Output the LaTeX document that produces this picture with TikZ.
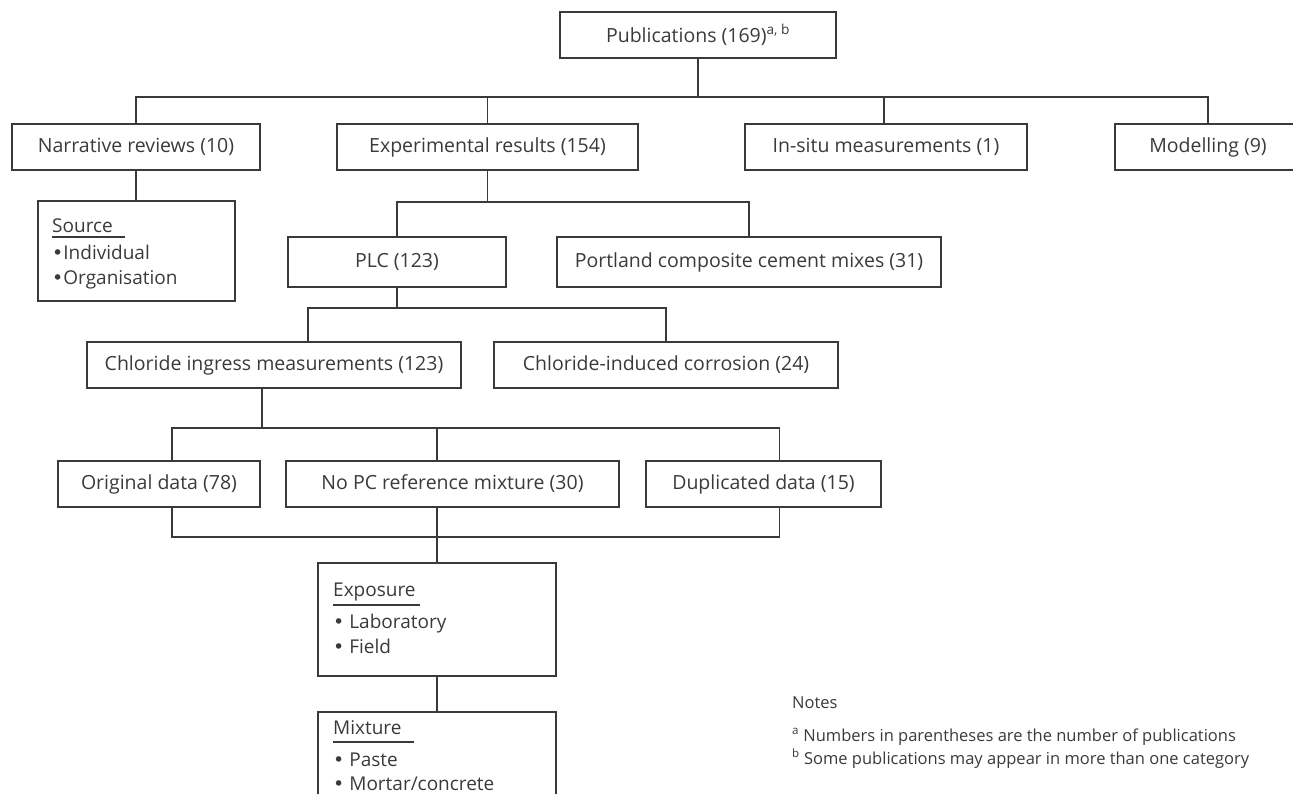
\documentclass[tikz,border=0pt]{standalone}
\usepackage{fontspec}
\setmainfont{Open Sans}
\newfontfamily\bulfont{DejaVu Sans}
\definecolor{ink}{HTML}{3A3A3A}
\newcommand{\bul}{{\bulfont •}}
\begin{document}
\begin{tikzpicture}[x=1pt,y=-1pt,
  box/.style={draw=ink, line width=1.3pt, inner sep=0pt, minimum height=46pt, text=ink, font=\fontsize{19.5}{22}\selectfont},
  conn/.style={draw=ink, line width=1.3pt},
  lbl/.style={anchor=base west, inner sep=0pt, text=ink, font=\fontsize{19}{22}\selectfont},
  note/.style={anchor=base west, inner sep=0pt, text=ink, font=\fontsize{16.5}{20}\selectfont},
  uline/.style={draw=ink, line width=2.6pt}]
\useasboundingbox (0,0) rectangle (1293,793);
\clip (0,0) rectangle (1293,793);

% level 0
\node[box, minimum width=276pt] (pub) at (698,35) {Publications (169)\textsuperscript{a, b}};
% level 1
\node[box, minimum width=248pt] (narr) at (136,147) {Narrative reviews (10)};
\node[box, minimum width=301pt] (exp) at (487.5,147) {Experimental results (154)};
\node[box, minimum width=282pt] (insitu) at (886,147) {In-situ measurements (1)};
\node[box, minimum width=186pt] (model) at (1208,147) {Modelling (9)};
% source
\node[box, minimum width=197pt, minimum height=100pt] (source) at (136.5,251) {};
\node[lbl] (srct) at (52,232) {Source};
\node[lbl] (src1) at (52,259) {\bul Individual};
\node[lbl] (src2) at (52,284) {\bul Organisation};
\draw[uline] ([yshift=-5pt]srct.base west) -- ([xshift=12pt,yshift=-5pt]srct.base east);
% level 2
\node[box, minimum width=218pt, minimum height=50pt] (plc) at (397,262) {PLC (123)};
\node[box, minimum width=384pt, minimum height=50pt] (portland) at (749,262) {Portland composite cement mixes (31)};
% level 3
\node[box, minimum width=374pt] (cim) at (274,365) {Chloride ingress measurements (123)};
\node[box, minimum width=344pt] (cic) at (666,365) {Chloride-induced corrosion (24)};
% level 4
\node[box, minimum width=202pt] (orig) at (159,484) {Original data (78)};
\node[box, minimum width=333pt] (nopc) at (452.5,484) {No PC reference mixture (30)};
\node[box, minimum width=235pt] (dup) at (763.5,484) {Duplicated data (15)};
% exposure
\node[box, minimum width=238pt, minimum height=113pt] (expo) at (437,619.5) {};
\node[lbl] (expt) at (333,596) {Exposure};
\node[lbl] (exp1) at (333,628) {\bul\ Laboratory};
\node[lbl] (exp2) at (333,653) {\bul\ Field};
\draw[uline] ([yshift=-9pt]expt.base west) -- ([xshift=4pt,yshift=-9pt]expt.base east);
% mixture
\node[box, minimum width=238pt, minimum height=113pt] (mix) at (437,768.5) {};
\node[lbl] (mixt) at (333,734) {Mixture};
\node[lbl] (mix1) at (333,766) {\bul\ Paste};
\node[lbl] (mix2) at (333,790) {\bul\ Mortar/concrete};
\draw[uline] ([yshift=-8pt]mixt.base west) -- ([xshift=12pt,yshift=-8pt]mixt.base east);

% notes
\node[note] (notes) at (792,708) {Notes};
\node[note] (notea) at (792,741) {\textsuperscript{a} Numbers in parentheses are the number of publications};
\node[note] (noteb) at (792,764) {\textsuperscript{b} Some publications may appear in more than one category};

% connectors
\coordinate (b1) at (698,97);
\draw[conn] (pub.south) -- (b1);
\draw[conn] (narr.north) |- (b1) -| (model.north);
\draw[conn] (exp.north) -- (exp.north |- b1);
\draw[conn] ([xshift=-2pt]insitu.north) -- ([xshift=-2pt]insitu.north |- b1);
\draw[conn] (narr.south) -- (narr.south |- source.north);

\coordinate (b2) at (487.5,202);
\draw[conn] (exp.south) -- (b2);
\draw[conn] (plc.north) |- (b2) -| (portland.north);

\coordinate (b3) at (397,308);
\draw[conn] (plc.south) -- (b3);
\draw[conn] ([xshift=34pt]cim.north) |- (b3) -| (cic.north);

\coordinate (b4) at (262,428);
\draw[conn] ([xshift=-12pt]cim.south) -- (b4);
\draw[conn] ([xshift=13pt]orig.north) |- (b4) -| ([xshift=16pt]dup.north);
\draw[conn] ([xshift=-15.5pt]nopc.north) -- ([xshift=-15.5pt]nopc.north |- b4);

\coordinate (b5) at (437,537);
\draw[conn] ([xshift=13pt]orig.south) |- (b5) -| ([xshift=16pt]dup.south);
\draw[conn] ([xshift=-15.5pt]nopc.south) -- (expo.north);
\draw[conn] (expo.south) -- (mix.north);
\end{tikzpicture}
\end{document}
